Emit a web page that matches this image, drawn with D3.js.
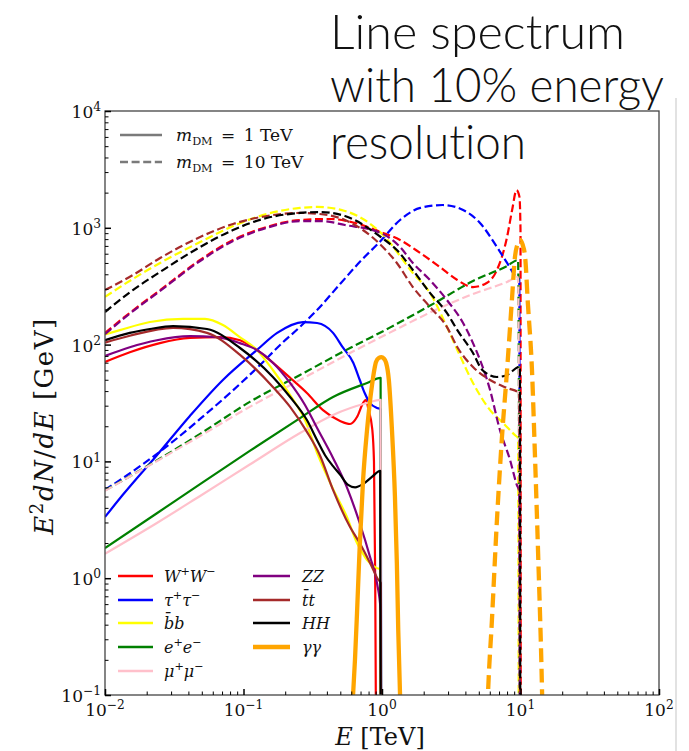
<!DOCTYPE html>
<html><head><meta charset="utf-8">
<script src="https://cdn.jsdelivr.net/npm/d3@7"></script>
<style>
html,body{margin:0;padding:0;background:#fff;}
svg{display:block;}
</style></head>
<body><svg id="chart" width="689" height="751"></svg>
<script>
// ---- spectra: [E (TeV), E^2 dN/dE (GeV)] ----
// m_DM = 1 TeV (solid)
const ww1 = [[0.01,71],[0.0151,86],[0.0249,103],[0.0411,114],[0.0676,116],[0.0944,109],[0.125,90],[0.17,67],[0.217,52],[0.287,38.5],[0.375,27.5],[0.498,22.2],[0.588,20.9],[0.66,24],[0.73,31.6],[0.766,33.6],[0.80,27.5],[0.85,19],[0.875,10],[0.89,1.5],[0.905,0.05],[0.91,0.001]];
const tautau1 = [[0.01,3.34],[0.0135,5.2],[0.0237,11.3],[0.041,24.5],[0.071,49.8],[0.125,90],[0.175,126],[0.269,156],[0.34,153],[0.443,126],[0.52,95],[0.62,70],[0.69,50],[0.75,38.5],[0.82,31.6],[0.92,28.7],[0.98,28],[0.99,0.001]];
const bb1 = [[0.01,122],[0.0128,133],[0.0211,156],[0.0366,166],[0.0527,166],[0.071,147],[0.094,116],[0.125,90],[0.163,60.6],[0.217,37],[0.278,22.6],[0.345,11.3],[0.443,5.8],[0.558,3.34],[0.66,2.0],[0.718,1.67],[0.78,1.43],[0.92,1.22],[0.97,1.19],[0.985,0.001]];
const ee1 = [[0.01,1.81],[0.0237,3.6],[0.0486,6.4],[0.111,12.3],[0.256,23.5],[0.443,35.6],[0.78,46.9],[0.977,51.8],[0.99,0.001]];
const mumu1 = [[0.01,1.62],[0.0237,2.97],[0.0486,5.06],[0.111,9.4],[0.256,17.5],[0.443,25],[0.78,31.6],[0.977,33.6],[0.99,0.001]];
const zz1 = [[0.01,80],[0.0151,95],[0.0237,109],[0.041,118],[0.064,116],[0.094,103],[0.125,90],[0.163,70],[0.217,47],[0.278,30.4],[0.34,19.3],[0.443,10.7],[0.558,6.0],[0.69,2.97],[0.82,1.52],[0.92,0.91],[0.98,0.51],[0.99,0.001]];
const tt1 = [[0.01,104],[0.0151,119],[0.031,139],[0.0545,126],[0.0944,81.7],[0.163,43.4],[0.217,29.3],[0.287,17.9],[0.356,11.3],[0.443,5.7],[0.588,2.74],[0.69,2.0],[0.82,1.35],[0.94,0.97],[0.98,0.91],[0.99,0.001]];
const hh1 = [[0.01,109],[0.0151,126],[0.0211,136],[0.031,144],[0.0545,136],[0.0944,93.5],[0.163,52.8],[0.217,35.6],[0.287,22.6],[0.34,15.2],[0.388,11.3],[0.443,9.1],[0.498,7.7],[0.569,6.3],[0.64,6.0],[0.73,6.4],[0.85,7.4],[0.97,8.3],[0.985,0.001]];
const gg1 = [[0.6,0.05],[0.618,0.1],[0.638,0.2],[0.66,0.5],[0.69,1.85],[0.73,6.9],[0.78,18.6],[0.847,45],[0.905,71],[0.95,77],[0.99,78],[1.03,76],[1.07,70],[1.12,50],[1.18,18.6],[1.24,5.0],[1.28,1.35],[1.31,0.36],[1.35,0.1],[1.38,0.05]];

// m_DM = 10 TeV (dashed)
const ww10 = [[0.01,126],[0.0151,187],[0.025,293],[0.0486,530],[0.084,787],[0.147,1016],[0.256,1167],[0.42,1190],[0.64,1100],[0.98,920],[1.35,787],[1.89,608],[2.62,461],[3.5,357],[4.54,311],[5.7,337],[6.76,435],[8.0,834],[8.7,1420],[9.36,2100],[9.83,1840],[10.0,957],[10.05,0.001]];
const tautau10 = [[0.01,5.7],[0.0179,9.1],[0.0294,14.1],[0.0486,23.1],[0.0799,38.5],[0.125,63],[0.19,103],[0.256,142],[0.34,198],[0.498,330],[0.69,509],[0.977,771],[1.35,1167],[1.89,1480],[2.75,1567],[3.85,1420],[5.1,1100],[6.76,685],[8.0,500],[9.44,371],[9.8,360],[9.9,0.001]];
const bb10 = [[0.01,256],[0.0159,365],[0.025,500],[0.0486,755],[0.084,1035],[0.147,1312],[0.256,1480],[0.34,1508],[0.54,1393],[1.02,867],[1.67,410],[2.22,277],[2.94,142],[3.5,90],[4.54,47],[6.03,27.5],[7.5,21.3],[9.1,16.8],[9.6,15.8],[9.75,0.001]];
const ee10 = [[0.01,5.65],[0.0211,9.4],[0.0486,17.2],[0.111,32.3],[0.256,55],[0.588,93.5],[1.13,139],[2.62,241],[4.54,351],[8.0,471],[9.6,530],[9.95,0.001]];
const mumu10 = [[0.01,5.6],[0.0211,9.3],[0.0486,16.5],[0.111,29.3],[0.256,49.8],[0.588,84.7],[1.13,126],[2.62,206],[4.54,271],[8.0,344],[9.6,379],[9.95,0.001]];
const zz10 = [[0.01,123],[0.0151,184],[0.025,288],[0.0486,520],[0.084,770],[0.147,1000],[0.256,1140],[0.37,1140],[0.54,1057],[0.98,904],[1.35,685],[1.67,500],[2.22,357],[2.94,241],[3.85,153],[4.54,103],[6.03,40.8],[7.1,18.6],[8.4,10.3],[9.4,6.3],[9.8,5.5],[9.95,0.001]];
const tt10 = [[0.01,293],[0.0159,394],[0.025,551],[0.0486,834],[0.084,1078],[0.147,1262],[0.256,1340],[0.356,1312],[0.54,1167],[0.98,713],[1.28,500],[1.67,311],[2.22,210],[2.94,142],[3.5,95],[4.54,64.3],[6.03,49.8],[8.0,42.5],[9.8,38.5],[9.95,0.001]];
const hh10 = [[0.01,190],[0.0159,293],[0.025,419],[0.0486,685],[0.084,957],[0.147,1213],[0.256,1340],[0.356,1365],[0.54,1262],[0.98,834],[1.28,645],[1.67,435],[2.22,277],[2.94,187],[3.5,133],[4.54,84.7],[5.3,60.7],[6.76,52.8],[8.0,55],[9.6,64.3],[9.9,65],[9.98,0.001]];
const gg10 = [[5.7,0.05],[5.82,0.1],[6.22,0.44],[6.76,3.15],[7.35,16.2],[8.0,60.7],[8.7,256],[9.12,562],[9.5,720],[9.93,787],[10.35,720],[10.8,562],[11.3,227],[12.1,60.7],[12.7,11.8],[13.4,1.64],[14.3,0.11],[14.5,0.05]];

// ---- axis ticks ----
const xTickExps = [-2, -1, 0, 1, 2];
const yTickExps = [-1, 0, 1, 2, 3, 4];

// ---- channels (legend order) ----
const channels = [
  {color:"red",     solid:ww1,     dashed:ww10,     label:[{t:"W",it:1},{t:"+",sup:1},{t:"W",it:1},{t:"\u2212",sup:1}]},
  {color:"blue",    solid:tautau1, dashed:tautau10, label:[{t:"\u03c4",it:1},{t:"+",sup:1},{t:"\u03c4",it:1},{t:"\u2212",sup:1}]},
  {color:"yellow",  solid:bb1,     dashed:bb10,     label:[{t:"b\u0304b",it:1}]},
  {color:"green",   solid:ee1,     dashed:ee10,     label:[{t:"e",it:1},{t:"+",sup:1},{t:"e",it:1},{t:"\u2212",sup:1}]},
  {color:"pink",    solid:mumu1,   dashed:mumu10,   label:[{t:"\u03bc",it:1},{t:"+",sup:1},{t:"\u03bc",it:1},{t:"\u2212",sup:1}]},
  {color:"purple",  solid:zz1,     dashed:zz10,     label:[{t:"ZZ",it:1}]},
  {color:"brown",   solid:tt1,     dashed:tt10,     label:[{t:"t\u0304t",it:1}]},
  {color:"black",   solid:hh1,     dashed:hh10,     label:[{t:"HH",it:1}]},
  {color:"orange",  solid:gg1,     dashed:gg10,     label:[{t:"\u03b3\u03b3",it:1}], wide:true}
];

const SERIF = "'DejaVu Serif','Liberation Serif',serif";
const svg = d3.select("#chart");
svg.append("rect").attr("width",689).attr("height",751).attr("fill","#fff");

const pL = 105, pR = 659, pT = 111, pB = 695;
const x = d3.scaleLog().domain([1e-2, 1e2]).range([pL, pR]);
const y = d3.scaleLog().domain([1e-1, 1e4]).range([pB, pT]);

// rich text helper: italic / superscript / subscript runs
function rich(sel, parts, base, small) {
  const k = small || 0.7;
  let off = 0;
  parts.forEach(p => {
    const target = p.sup ? -0.4*base : (p.sub ? 0.25*base : 0);
    sel.append("tspan").text(p.t)
      .attr("dy", (target - off).toFixed(2))
      .style("font-style", p.it ? "italic" : "normal")
      .style("font-size", (p.sup || p.sub) ? (k*base)+"px" : base+"px");
    off = target;
  });
}

// faint page edge line on the right
svg.append("line").attr("x1",676).attr("x2",676).attr("y1",98).attr("y2",751)
  .attr("stroke","#cfcfcf").attr("stroke-width",1.2);

// title
const title = ["Line spectrum", "with 10% energy", "resolution"];
const titleY = [49, 102, 159];
const titleLen = [295, 334, 196];
title.forEach((t,i) => {
  svg.append("text").attr("x",330).attr("y",titleY[i]).text(t)
    .attr("textLength", titleLen[i]).attr("lengthAdjust","spacingAndGlyphs")
    .style("font-family","Lato,Roboto,'Open Sans',sans-serif")
    .style("font-variant-ligatures","none")
    .style("font-weight",300).style("font-size","48px").attr("fill","#111");
});

// clip
svg.append("clipPath").attr("id","plotclip").append("rect")
  .attr("x",pL).attr("y",pT).attr("width",pR-pL).attr("height",pB-pT);

const plot = svg.append("g").attr("clip-path","url(#plotclip)");
const line = d3.line().x(d => x(d[0])).y(d => y(d[1])).curve(d3.curveMonotoneX);

channels.forEach(c => {
  const w = c.wide ? 4.3 : 2.2;
  plot.append("path").datum(c.solid).attr("d", line)
    .attr("fill","none").attr("stroke", c.color).attr("stroke-width", w)
    .attr("stroke-linejoin","round");
  plot.append("path").datum(c.dashed).attr("d", line)
    .attr("fill","none").attr("stroke", c.color).attr("stroke-width", w)
    .attr("stroke-dasharray", c.wide ? "14,6.5" : "8,3.6");
});

// frame
svg.append("rect").attr("x",pL).attr("y",pT).attr("width",pR-pL).attr("height",pB-pT)
  .attr("fill","none").attr("stroke","#444").attr("stroke-width",1.3);

// ticks
const xMajor = xTickExps.map(e => Math.pow(10, e));
const yMajor = yTickExps.map(e => Math.pow(10, e));
const minorOf = exps => exps.slice(0,-1).flatMap(e => d3.range(2,10).map(k => k*Math.pow(10,e)));

function tickAxis(axis, vals, size, width, tr) {
  const g = svg.append("g").attr("transform", tr)
    .call(axis.tickValues(vals).tickSize(-size).tickFormat(""));
  g.select(".domain").remove();
  g.selectAll(".tick line").attr("stroke","#000").attr("stroke-width",width);
}
tickAxis(d3.axisBottom(x), xMajor, 6, 1.5, `translate(0,${pB})`);
tickAxis(d3.axisBottom(x), minorOf(xTickExps), 3.5, 1, `translate(0,${pB})`);
tickAxis(d3.axisLeft(y), yMajor, 6, 1.5, `translate(${pL},0)`);
tickAxis(d3.axisLeft(y), minorOf(yTickExps), 3.5, 1, `translate(${pL},0)`);

// tick labels
const expText = e => (e < 0 ? "\u2212" : "") + Math.abs(e);
xTickExps.forEach(e => {
  const t = svg.append("text").attr("x", x(Math.pow(10,e))).attr("y", 716)
    .attr("text-anchor","middle").style("font-family",SERIF).attr("fill","#111");
  rich(t, [{t:"10"},{t:expText(e),sup:1}], 17, 0.72);
});
yTickExps.forEach(e => {
  const t = svg.append("text").attr("x", 101).attr("y", y(Math.pow(10,e)) + 7)
    .attr("text-anchor","end").style("font-family",SERIF).attr("fill","#111");
  rich(t, [{t:"10"},{t:expText(e),sup:1}], 17, 0.72);
});

// axis titles
const xl = svg.append("text").attr("x",380).attr("y",745).attr("text-anchor","middle")
  .style("font-family",SERIF).attr("fill","#111");
rich(xl, [{t:"E",it:1},{t:" [TeV]"}], 24);
const yl = svg.append("text").attr("transform","translate(53,426) rotate(-90)")
  .attr("text-anchor","middle").style("font-family",SERIF).attr("fill","#111")
  .style("letter-spacing","1.5px");
rich(yl, [{t:"E",it:1},{t:"2",sup:1},{t:"dN",it:1},{t:"/"},{t:"dE",it:1},{t:" [GeV]"}], 26);

// mass legend
const massRows = [{label:"1", dash:null, y:135}, {label:"10", dash:"8,3.6", y:162}];
massRows.forEach(r => {
  svg.append("line").attr("x1",120).attr("x2",162).attr("y1",r.y).attr("y2",r.y)
    .attr("stroke","#7a7a7a").attr("stroke-width",2.4).attr("stroke-dasharray", r.dash);
  const t = svg.append("text").attr("x",176).attr("y",r.y+6).style("font-family",SERIF).attr("fill","#111");
  rich(t, [{t:"m",it:1},{t:"DM",sub:1},{t:"\u2002=\u2002"+r.label+" TeV"}], 17, 0.66);
});

// channel legend (two columns)
const legRowsY = [576, 600, 623, 647, 671];
channels.forEach((c,i) => {
  const col = i < 5 ? 0 : 1;
  const row = i < 5 ? i : i - 5;
  const x0 = col ? 253 : 118, x1 = col ? 290 : 153, tx = col ? 302 : 164;
  const yy = legRowsY[row];
  svg.append("line").attr("x1",x0).attr("x2",x1).attr("y1",yy).attr("y2",yy)
    .attr("stroke",c.color).attr("stroke-width", c.wide ? 4.3 : 2.4);
  const t = svg.append("text").attr("x",tx).attr("y",yy+5.5).style("font-family",SERIF).attr("fill","#111");
  rich(t, c.label, 16);
});
</script>
</body></html>
